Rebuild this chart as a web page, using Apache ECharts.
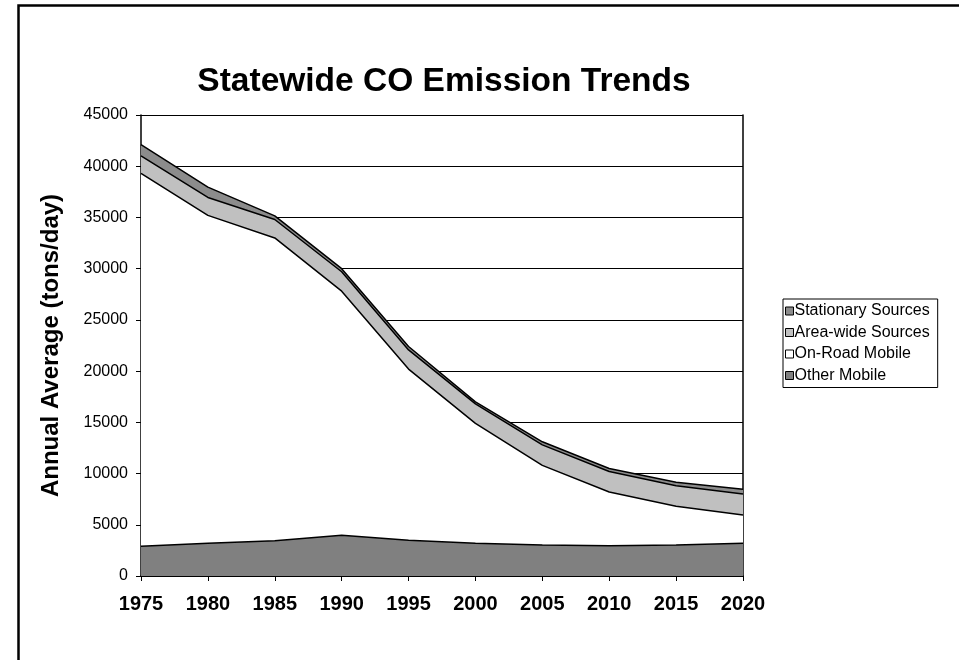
<!DOCTYPE html>
<html>
<head>
<meta charset="utf-8">
<script src="https://cdn.jsdelivr.net/npm/echarts@6/dist/echarts.min.js"></script>
<style>
html,body{margin:0;padding:0;background:#fff;}
#chart{width:959px;height:660px;}
</style>
</head>
<body>
<div id="chart"></div>
<script>
const years = ['1975','1980','1985','1990','1995','2000','2005','2010','2015','2020'];
const otherMobile = [2900, 3200, 3450, 3970, 3500, 3200, 3030, 2960, 3030, 3200];
const onRoadMobile = [36400, 32000, 29550, 23830, 16700, 11700, 7770, 5240, 3770, 2760];
const areaWide = [1700, 1750, 1800, 1900, 1870, 1900, 2000, 2000, 2000, 2040];
const stationary = [1100, 1010, 350, 300, 330, 200, 300, 300, 350, 470];
const legendOrder = ['Stationary Sources','Area-wide Sources','On-Road Mobile','Other Mobile'];

const FONT = '"Liberation Sans", Arial, sans-serif';
function mk(name, data, color){
  return {
    name, type:'line', stack:'total', data, symbol:'none',
    lineStyle:{color:'#000', width:1.5},
    itemStyle:{color:color, borderColor:'#000', borderWidth:1},
    areaStyle:{color:color, opacity:1},
    emphasis:{disabled:true}
  };
}
const chart = echarts.init(document.getElementById('chart'), null, {renderer:'canvas'});
chart.setOption({
  animation:false,
  backgroundColor:'#fff',
  textStyle:{fontFamily:FONT},
  title:{
    text:'Statewide CO Emission Trends',
    left:439, textAlign:'center', top:60,
    textStyle:{fontFamily:FONT, fontSize:33.5, fontWeight:'bold', color:'#000'}
  },
  legend:{
    orient:'vertical', left:783, top:299,
    data:legendOrder,
    backgroundColor:'#fff', borderColor:'#000', borderWidth:1,
    padding:[4,8,4,2],
    itemWidth:8, itemHeight:8, itemGap:5.5,
    icon:'rect',
    textStyle:{fontFamily:FONT, fontSize:16, lineHeight:16, color:'#000', padding:[0,0,0,-4]},
    itemStyle:{borderColor:'#000', borderWidth:1}
  },
  grid:{left:141, right:216, top:115, bottom:84, containLabel:false},
  xAxis:{
    type:'category', data:years, boundaryGap:false,
    axisLine:{lineStyle:{color:'#000', width:1.5}},
    axisTick:{show:true, alignWithLabel:true, length:5, lineStyle:{color:'#000'}},
    axisLabel:{fontFamily:FONT, fontSize:20, fontWeight:'bold', color:'#000', margin:18},
    splitLine:{show:false}
  },
  yAxis:[{
    type:'value', min:0, max:45000, interval:5000,
    name:'Annual Average (tons/day)', nameLocation:'middle', nameGap:78, nameRotate:90,
    nameTextStyle:{fontFamily:FONT, fontSize:24, fontWeight:'bold', color:'#000'},
    axisLine:{show:true, lineStyle:{color:'#000', width:1.5}},
    axisTick:{show:true, length:5, lineStyle:{color:'#000'}},
    axisLabel:{fontFamily:FONT, fontSize:16, color:'#000', margin:13, formatter:function(v){return String(v);}},
    splitLine:{show:true, lineStyle:{color:'#000', width:1}}
  },{
    type:'value', min:0, max:45000, interval:5000, position:'right',
    axisLine:{show:true, lineStyle:{color:'#000', width:1.5}},
    axisTick:{show:false}, axisLabel:{show:false}, splitLine:{show:false}
  }],
  series:[
    mk('Other Mobile', otherMobile, '#808080'),
    mk('On-Road Mobile', onRoadMobile, '#ffffff'),
    mk('Area-wide Sources', areaWide, '#c0c0c0'),
    mk('Stationary Sources', stationary, '#8c8c8c')
  ],
  graphic:[{
    type:'rect', left:16, top:3, silent:true,
    shape:{width:942, height:700},
    style:{fill:'none', stroke:'#000', lineWidth:2.5}
  }]
});
</script>
</body>
</html>
